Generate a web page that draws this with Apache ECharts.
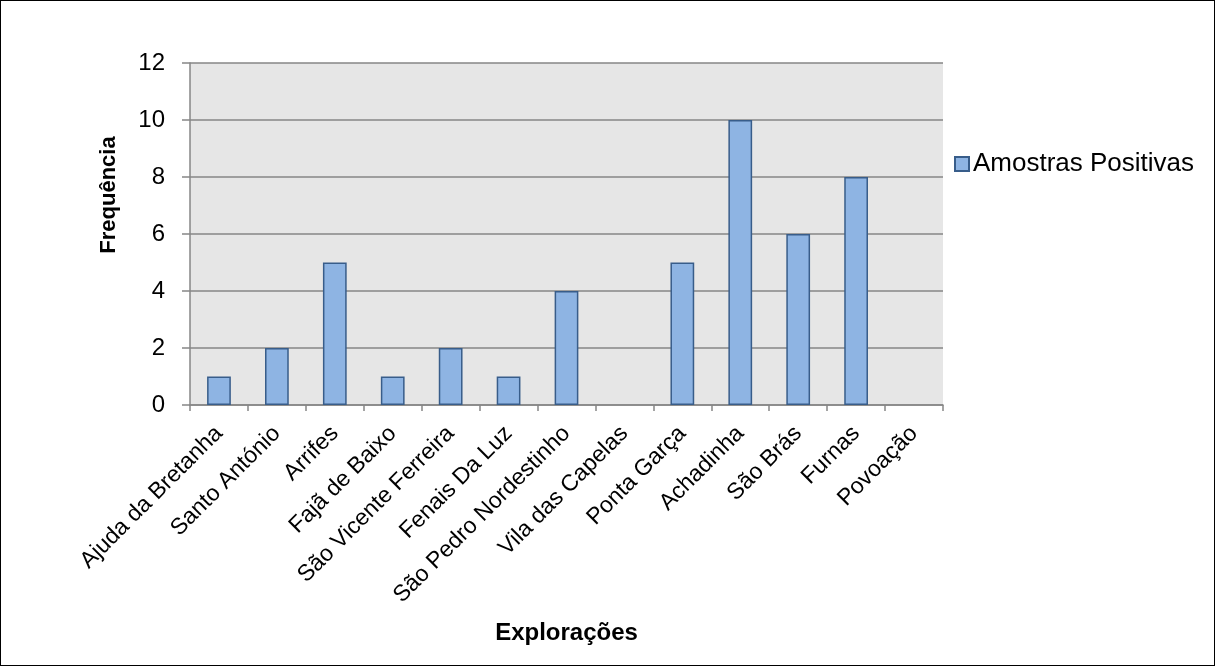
<!DOCTYPE html>
<html>
<head>
<meta charset="utf-8">
<script src="https://cdn.jsdelivr.net/npm/echarts@6/dist/echarts.min.js"></script>
<style>
html,body{margin:0;padding:0;background:#fff;}
#c{width:1215px;height:666px;box-sizing:border-box;border:1px solid #000;}
</style>
</head>
<body>
<div id="c"></div>
<script>
const categories = ["Ajuda da Bretanha","Santo António","Arrifes","Fajã de Baixo","São Vicente Ferreira","Fenais Da Luz","São Pedro Nordestinho","Vila das Capelas","Ponta Garça","Achadinha","São Brás","Furnas","Povoação"];
const positives = [1,2,5,1,2,1,4,0,5,10,6,8,0];
const seriesName = "Amostras Positivas";
const xTitle = "Explorações";
const yTitle = "Frequência";

const chart = echarts.init(document.getElementById('c'));
const font = 'Liberation Sans, Arial, sans-serif';
chart.setOption({
  animation:false,
  textStyle:{fontFamily:font},
  grid:{left:189,right:271,top:62,bottom:260,show:true,backgroundColor:'#E6E6E6',borderWidth:0},
  legend:{
    data:[seriesName], left:953, top:150, orient:'vertical', padding:0,
    icon:'rect', itemWidth:14, itemHeight:14, itemGap:4,
    textStyle:{fontSize:26,color:'#000',fontFamily:font,padding:[0,0,0,-1]}
  },
  xAxis:{
    type:'category', data:categories, boundaryGap:true,
    name:xTitle, nameLocation:'middle', nameGap:216,
    nameTextStyle:{fontSize:24,fontWeight:'bold',color:'#000',fontFamily:font},
    axisLine:{lineStyle:{color:'#868686',width:1.5}},
    axisTick:{show:true,alignWithLabel:false,length:6,lineStyle:{color:'#868686',width:1.5}},
    axisLabel:{rotate:45,fontSize:23,color:'#000',margin:25,interval:0,fontFamily:font}
  },
  yAxis:{
    type:'value', min:0, max:12, interval:2,
    name:yTitle, nameLocation:'middle', nameGap:70, nameRotate:90,
    nameTextStyle:{fontSize:22,fontWeight:'bold',color:'#000',fontFamily:font,padding:[0,0,0,78]},
    axisLine:{show:true,lineStyle:{color:'#868686',width:1.5}},
    axisTick:{show:true,length:8,lineStyle:{color:'#868686',width:1.5}},
    axisLabel:{fontSize:24,color:'#000',margin:25,fontFamily:font},
    splitLine:{show:true,lineStyle:{color:'#868686',width:1.5}}
  },
  series:[{
    name:seriesName, type:'bar', data:positives.map(v => v === 0 ? null : v), barWidth:'41%',
    itemStyle:{color:'#8EB4E3',borderColor:'#385D8A',borderWidth:1.5}
  }]
});
</script>
</body>
</html>
